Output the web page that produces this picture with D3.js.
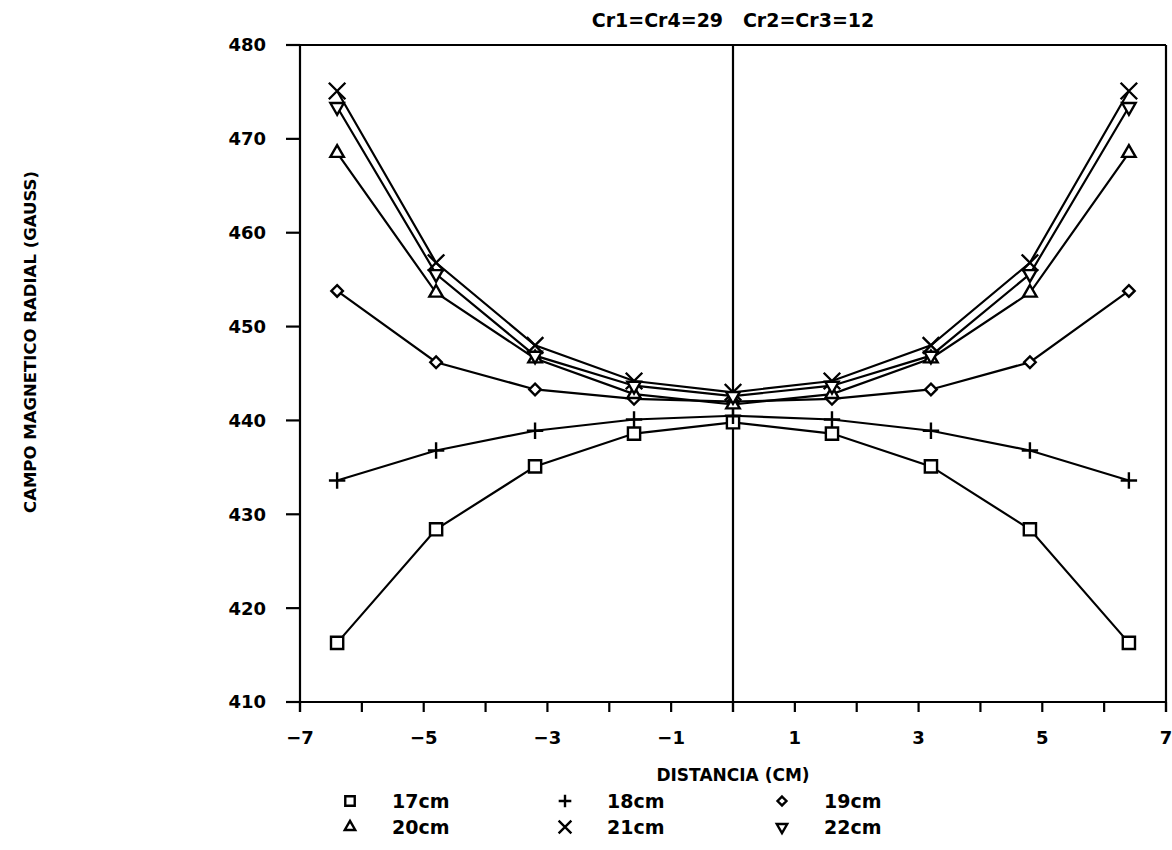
<!DOCTYPE html>
<html>
<head>
<meta charset="utf-8">
<script src="https://cdn.jsdelivr.net/npm/d3@7"></script>
<style>
  body { margin: 0; background: #fff; }
  svg text { font-family: "DejaVu Sans", sans-serif; font-weight: bold; fill: #000; }
</style>
</head>
<body>
<div id="chart"></div>
<script>
// distancia (cm) de cada punto medido
const distancia = [-6.4, -4.8, -3.2, -1.6, 0, 1.6, 3.2, 4.8, 6.4];

// campo radial (gauss) por altura
const s17 = [416.3, 428.4, 435.1, 438.6, 439.8, 438.6, 435.1, 428.4, 416.3];
const s18 = [433.6, 436.8, 438.9, 440.1, 440.5, 440.1, 438.9, 436.8, 433.6];
const s19 = [453.8, 446.2, 443.3, 442.3, 442.0, 442.3, 443.3, 446.2, 453.8];
const s20 = [468.5, 453.6, 446.6, 442.8, 441.7, 442.8, 446.6, 453.6, 468.5];
const s21 = [475.1, 456.8, 448.0, 444.2, 443.0, 444.2, 448.0, 456.8, 475.1];
const s22 = [473.4, 455.6, 446.9, 443.7, 442.6, 443.7, 446.9, 455.6, 473.4];

const seriesNames = ["17cm", "18cm", "19cm", "20cm", "21cm", "22cm"];
const seriesValues = [s17, s18, s19, s20, s21, s22];

const xTickLabels = [-7, -5, -3, -1, 1, 3, 5, 7];
const yTickLabels = [410, 420, 430, 440, 450, 460, 470, 480];

const W = 1172, H = 850;
const margin = { top: 45, right: 6, bottom: 148, left: 300 };

const svg = d3.select("#chart")
    .append("svg")
    .attr("width", W)
    .attr("height", H);

const x = d3.scaleLinear()
    .domain([-7, 7])
    .range([margin.left, W - margin.right]);

const y = d3.scaleLinear()
    .domain([410, 480])
    .range([H - margin.bottom, margin.top]);

// simbolos tipo plotter
const symbolFor = [
    { type: d3.symbolSquare2, size: 190, rot: 0 },
    { type: d3.symbolPlus, size: 90, rot: 0 },
    { type: d3.symbolDiamond2, size: 85, rot: 0 },
    { type: d3.symbolTriangle2, size: 130, rot: 0 },
    { type: d3.symbolTimes, size: 180, rot: 0 },
    { type: d3.symbolTriangle2, size: 130, rot: 180 }
];

// ejes
const axisG = svg.append("g").attr("stroke", "#000").attr("stroke-width", 2.2);

axisG.append("line")
    .attr("x1", x(-7)).attr("x2", x(-7))
    .attr("y1", y(480)).attr("y2", y(410) + 10);
axisG.append("line")
    .attr("x1", x(-7) - 14).attr("x2", x(7))
    .attr("y1", y(410)).attr("y2", y(410));
axisG.append("line")
    .attr("x1", x(-7) - 14).attr("x2", x(7))
    .attr("y1", y(480)).attr("y2", y(480));
axisG.append("line")
    .attr("x1", x(7)).attr("x2", x(7))
    .attr("y1", y(480)).attr("y2", y(410) + 10);
axisG.append("line")
    .attr("x1", x(0)).attr("x2", x(0))
    .attr("y1", y(480)).attr("y2", y(410) + 10);

axisG.selectAll(".ytick")
    .data(yTickLabels)
    .join("line")
    .attr("class", "ytick")
    .attr("x1", x(-7) - 14).attr("x2", x(-7))
    .attr("y1", d => y(d)).attr("y2", d => y(d));

axisG.selectAll(".xtick")
    .data(d3.range(-7, 8))
    .join("line")
    .attr("class", "xtick")
    .attr("x1", d => x(d)).attr("x2", d => x(d))
    .attr("y1", y(410)).attr("y2", y(410) + 10);

svg.append("g")
    .selectAll("text")
    .data(yTickLabels)
    .join("text")
    .attr("x", x(-7) - 34)
    .attr("y", d => y(d))
    .attr("dy", "0.36em")
    .attr("text-anchor", "end")
    .style("font-size", "18px")
    .text(d => d);

svg.append("g")
    .selectAll("text")
    .data(xTickLabels)
    .join("text")
    .attr("x", d => x(d))
    .attr("y", y(410) + 42)
    .attr("text-anchor", "middle")
    .style("font-size", "18px")
    .text(d => d < 0 ? "\u2212" + Math.abs(d) : d);

// titulos
svg.append("text")
    .attr("x", x(0))
    .attr("y", 27)
    .attr("text-anchor", "middle")
    .style("font-size", "19px")
    .attr("xml:space", "preserve")
    .text("Cr1=Cr4=29   Cr2=Cr3=12");

svg.append("text")
    .attr("x", x(0))
    .attr("y", 781)
    .attr("text-anchor", "middle")
    .style("font-size", "17px")
    .text("DISTANCIA (CM)");

svg.append("text")
    .attr("transform", "translate(36,342) rotate(-90)")
    .attr("text-anchor", "middle")
    .style("font-size", "16.5px")
    .text("CAMPO MAGNETICO RADIAL (GAUSS)");

// series
const line = d3.line()
    .x((d, i) => x(distancia[i]))
    .y(d => y(d));

seriesValues.forEach((vals, k) => {
    const g = svg.append("g");
    g.append("path")
        .attr("d", line(vals))
        .attr("fill", "none")
        .attr("stroke", "#000")
        .attr("stroke-width", 2.2);

    const sym = symbolFor[k];
    g.selectAll("path.mk")
        .data(vals)
        .join("path")
        .attr("class", "mk")
        .attr("d", d3.symbol().type(sym.type).size(sym.size))
        .attr("transform", (d, i) => `translate(${x(distancia[i])},${y(d)}) rotate(${sym.rot})`)
        .attr("fill", "#fff")
        .attr("stroke", "#000")
        .attr("stroke-width", 2.4);
});

// leyenda
const legendCols = [350, 565, 782];
const legendRows = [808, 834];

seriesNames.forEach((name, k) => {
    const cx = legendCols[k % 3];
    const cy = legendRows[Math.floor(k / 3)];
    const sym = symbolFor[k];
    svg.append("path")
        .attr("d", d3.symbol().type(sym.type).size(sym.size * 0.6))
        .attr("transform", `translate(${cx},${cy - 7}) rotate(${sym.rot})`)
        .attr("fill", "#fff")
        .attr("stroke", "#000")
        .attr("stroke-width", 2.4);
    svg.append("text")
        .attr("x", cx + 42)
        .attr("y", cy)
        .style("font-size", "19px")
        .text(name);
});
</script>
</body>
</html>
